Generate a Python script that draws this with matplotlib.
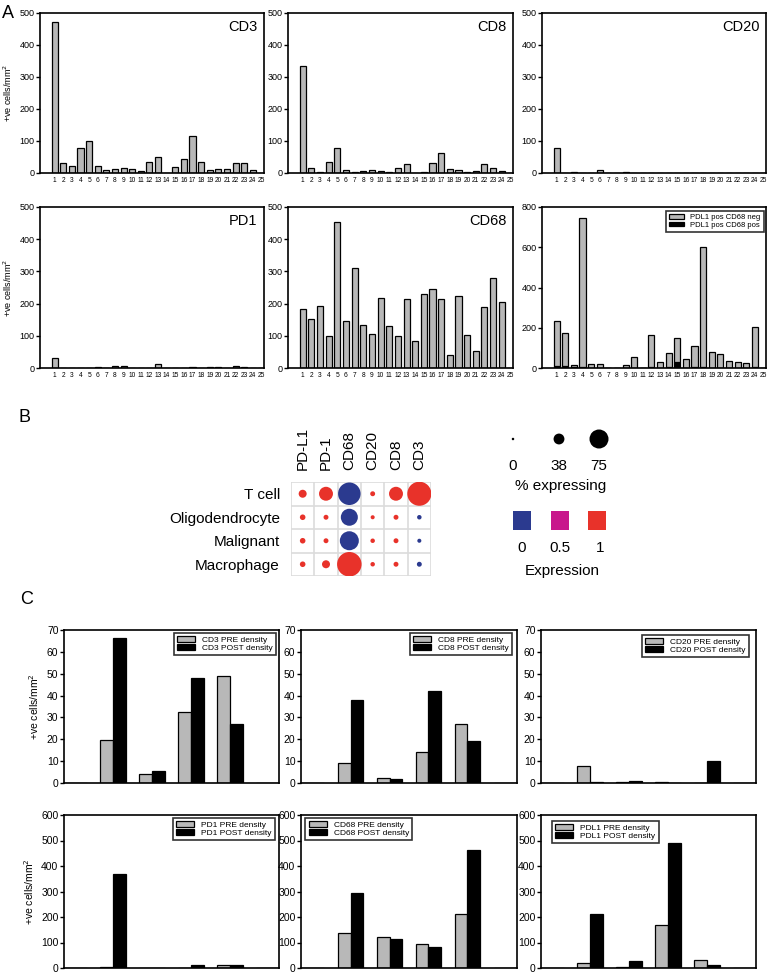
import numpy as np
import matplotlib
matplotlib.use("Agg")
from matplotlib import pyplot as plt
from matplotlib.colors import LinearSegmentedColormap
from matplotlib.patches import Rectangle

plt.rcParams['font.family'] = ['Liberation Sans', 'DejaVu Sans']

W, H = 782, 975
GREY = "#b8b8b8"

# ---- panel A data (cases 1..25) ----
cases = np.arange(1, 26)
cd3_a = [472, 31, 23, 78, 100, 21, 10, 13, 15, 13, 5, 33, 51, 1, 19, 44, 116, 33, 10, 12, 12, 31, 31, 8, 0]
cd8_a = [334, 17, 4, 34, 78, 10, 3, 5, 8, 7, 3, 15, 27, 0, 4, 31, 63, 14, 9, 3, 7, 28, 17, 6, 0]
cd20_a = [77, 1, 2, 0, 1, 8, 0, 0, 2, 0, 0, 0, 0, 0, 0, 0, 1, 0, 0, 0, 0, 1, 1, 0, 0]
pd1_a = [31, 0, 0, 0, 0, 3, 0, 5, 5, 0, 0, 0, 12, 0, 0, 0, 4, 0, 3, 3, 0, 6, 2, 0, 0]
cd68_a = [182, 153, 192, 100, 454, 145, 312, 133, 107, 218, 131, 99, 214, 83, 230, 246, 215, 41, 225, 102, 54, 189, 281, 205, 0]
pdl1_total = [236, 175, 15, 745, 21, 18, 0, 0, 15, 55, 0, 165, 28, 76, 150, 46, 111, 600, 81, 69, 36, 28, 26, 203, 0]
pdl1_cd68pos = [12, 10, 5, 3, 0, 0, 0, 0, 2, 2, 0, 3, 2, 3, 30, 2, 3, 5, 2, 2, 2, 1, 1, 3, 0]

# ---- panel B data ----
markers = ["PD-L1", "PD-1", "CD68", "CD20", "CD8", "CD3"]
cell_types = ["T cell", "Oligodendrocyte", "Malignant", "Macrophage"]
pct_expr = [
    [25, 52, 91, 11, 52, 98],
    [14, 11, 66, 7, 11, 9],
    [14, 11, 75, 9, 11, 7],
    [14, 25, 100, 9, 11, 11],
]
expression = [
    [1, 1, 0, 1, 1, 1],
    [1, 1, 0, 1, 1, 0],
    [1, 1, 0, 1, 1, 0],
    [1, 1, 1, 1, 1, 0],
]
size_breaks = [0, 38, 75]
color_breaks = [0.0, 0.5, 1.0]

# ---- panel C data (6 slots, first and last empty) ----
slots = np.arange(1, 7)
cd3_pre = [0, 19.5, 4, 32.5, 49, 0]
cd3_post = [0, 66.5, 5.5, 48, 27, 0]
cd8_pre = [0, 9, 2.3, 14, 27, 0]
cd8_post = [0, 38, 2, 42, 19, 0]
cd20_pre = [0, 8, 0.5, 0.5, 0, 0]
cd20_post = [0, 0.5, 1, 0, 10, 0]
pd1_pre = [0, 3, 0, 0, 10, 0]
pd1_post = [0, 370, 0, 12, 13, 0]
cd68_pre = [0, 138, 123, 95, 212, 0]
cd68_post = [0, 293, 112, 82, 461, 0]
pdl1_pre = [0, 21, 5, 169, 33, 0]
pdl1_post = [0, 210, 29, 492, 10, 0]


def box(x0, y0, x1, y1):
    return [x0 / W, 1 - y1 / H, (x1 - x0) / W, (y1 - y0) / H]


def style(ax, fs):
    for s in ax.spines.values():
        s.set_linewidth(1.2)
    ax.tick_params(axis='y', length=3, width=1, labelsize=fs, pad=1)
    ax.tick_params(axis='x', length=0, labelsize=fs)


fig = plt.figure(figsize=(W / 100, H / 100), dpi=100)

ylab = "+ve cells/mm$^2$"

# ---------------- A ----------------
acols = [(40, 264), (288, 513), (542, 766)]
arows = [(13, 173), (207, 368)]
a_data = [("CD3", cd3_a), ("CD8", cd8_a), ("CD20", cd20_a), ("PD1", pd1_a), ("CD68", cd68_a)]
for i, (name, vals) in enumerate(a_data):
    r, c = divmod(i, 3)
    ax = fig.add_axes(box(acols[c][0], arows[r][0], acols[c][1], arows[r][1]))
    ax.bar(cases, vals, 0.7, color=GREY, edgecolor="black", linewidth=0.9)
    ax.set_xlim(-0.7, 25.3)
    ax.set_ylim(0, 500)
    ax.set_yticks([0, 100, 200, 300, 400, 500])
    ax.set_xticks(cases)
    ax.set_xticklabels([str(k) for k in cases])
    style(ax, 6.5)
    ax.tick_params(axis='x', labelsize=4.8, pad=3)
    ax.text(0.97, 0.91, name, transform=ax.transAxes, ha="right", va="center", fontsize=10.5)
    if c == 0:
        ax.set_ylabel(ylab, fontsize=6.5, labelpad=4)

ax = fig.add_axes(box(acols[2][0], arows[1][0], acols[2][1], arows[1][1]))
pdl1_neg = np.array(pdl1_total) - np.array(pdl1_cd68pos)
ax.bar(cases, pdl1_cd68pos, 0.7, color="black", edgecolor="black", linewidth=0.9,
       label="PDL1 pos CD68 pos")
ax.bar(cases, pdl1_neg, 0.7, bottom=pdl1_cd68pos, color=GREY, edgecolor="black",
       linewidth=0.9, label="PDL1 pos CD68 neg")
ax.set_xlim(-0.7, 25.3)
ax.set_ylim(0, 800)
ax.set_yticks([0, 200, 400, 600, 800])
ax.set_xticks(cases)
ax.set_xticklabels([str(k) for k in cases])
style(ax, 6.5)
ax.tick_params(axis='x', labelsize=4.8, pad=3)
h, l = ax.get_legend_handles_labels()
leg = ax.legend(h[::-1], l[::-1], loc="upper right", bbox_to_anchor=(0.99, 0.975),
                fontsize=5.5, frameon=True, fancybox=False, borderpad=0.4,
                handlelength=2.0, handleheight=0.6, labelspacing=0.05, borderaxespad=0)
leg.get_frame().set_edgecolor("black")
leg.get_frame().set_linewidth(1.2)

fig.text(2 / W, 1 - 13 / H, "A", fontsize=13, ha="left", va="center")

# ---------------- B ----------------
narrow = ['Liberation Sans Narrow', 'Liberation Sans', 'DejaVu Sans']
cmap = LinearSegmentedColormap.from_list("expr", ["#2b3a8f", "#c8168c", "#e8322a"])


def diam_px(p):
    return 2.5 + 0.22 * np.asarray(p, dtype=float)


def s_pts(p):
    return (diam_px(p) * 0.72) ** 2


axb = fig.add_axes(box(291, 482, 431, 576))
xx, yy = np.meshgrid(np.arange(len(markers)), np.arange(len(cell_types)))
axb.scatter(xx.ravel(), yy.ravel(), s=s_pts(np.array(pct_expr).ravel()),
            c=np.array(expression, dtype=float).ravel(), cmap=cmap, vmin=0, vmax=1,
            linewidths=0, zorder=3)
axb.set_xlim(-0.5, len(markers) - 0.5)
axb.set_ylim(len(cell_types) - 0.5, -0.5)
axb.set_xticks(np.arange(len(markers)))
axb.set_xticklabels(markers, rotation=90, fontsize=11, family=narrow)
axb.set_yticks(np.arange(len(cell_types)))
axb.set_yticklabels(cell_types, fontsize=11, family=narrow)
axb.xaxis.tick_top()
axb.tick_params(axis='x', length=0, pad=9)
axb.tick_params(axis='y', length=0, pad=8)
axb.set_xticks(np.arange(-0.5, len(markers)), minor=True)
axb.set_yticks(np.arange(-0.5, len(cell_types)), minor=True)
axb.tick_params(which='minor', length=0)
axb.grid(which='minor', color="#dcdcdc", linewidth=1.2)
for s in axb.spines.values():
    s.set_visible(False)

# legend area in pixel units
axl = fig.add_axes(box(480, 420, 640, 590))
axl.set_xlim(480, 640)
axl.set_ylim(590, 420)
axl.axis("off")
leg_x = [513, 559, 599]
axl.scatter(leg_x, [439] * 3, s=s_pts(size_breaks), color="black", linewidths=0)
for x, b in zip(leg_x, size_breaks):
    axl.text(x, 466, str(b), ha="center", va="center", fontsize=11, family=narrow)
axl.text(561, 486, "% expressing", ha="center", va="center", fontsize=11, family=narrow)
sq_x = [522, 560, 597]
for x, v in zip(sq_x, color_breaks):
    axl.add_patch(Rectangle((x - 9, 510.5), 18, 19, facecolor=cmap(v), edgecolor="none"))
for x, v in zip([522, 560, 600], ["0", "0.5", "1"]):
    axl.text(x, 548, v, ha="center", va="center", fontsize=11, family=narrow)
axl.text(562, 571, "Expression", ha="center", va="center", fontsize=11, family=narrow)

fig.text(18 / W, 1 - 417 / H, "B", fontsize=13, ha="left", va="center", family=narrow)

# ---------------- C ----------------
ccols = [(64, 279), (301, 517), (541, 756)]
crows = [(630, 783), (815, 968)]
c_data = [
    ("CD3", cd3_pre, cd3_post, 70, "upper right", (0.986, 0.98)),
    ("CD8", cd8_pre, cd8_post, 70, "upper right", (0.977, 0.98)),
    ("CD20", cd20_pre, cd20_post, 70, "upper right", (0.967, 0.967)),
    ("PD1", pd1_pre, pd1_post, 600, "upper right", (0.98, 0.98)),
    ("CD68", cd68_pre, cd68_post, 600, "upper left", (0.02, 0.98)),
    ("PDL1", pdl1_pre, pdl1_post, 600, "upper left", (0.05, 0.96)),
]
bw = 0.33
for i, (name, pre, post, ymax, loc, anchor) in enumerate(c_data):
    r, c = divmod(i, 3)
    ax = fig.add_axes(box(ccols[c][0], crows[r][0], ccols[c][1], crows[r][1]))
    ax.bar(slots - bw / 2, pre, bw, color=GREY, edgecolor="black", linewidth=0.9,
           label=name + " PRE density")
    ax.bar(slots + bw / 2, post, bw, color="black", edgecolor="black", linewidth=0.9,
           label=name + " POST density")
    ax.set_xlim(0.73, 6.27)
    ax.set_ylim(0, ymax)
    if ymax == 70:
        ax.set_yticks(np.arange(0, 71, 10))
    else:
        ax.set_yticks(np.arange(0, 601, 100))
    ax.set_xticks([])
    style(ax, 7.5)
    leg = ax.legend(loc=loc, bbox_to_anchor=anchor, fontsize=6, frameon=True,
                    fancybox=False, borderpad=0.4, handlelength=2.2, handleheight=0.6,
                    labelspacing=0.05, borderaxespad=0)
    leg.get_frame().set_edgecolor("black")
    leg.get_frame().set_linewidth(1.2)
    if c == 0:
        ax.set_ylabel(ylab, fontsize=7.5, labelpad=4)

fig.text(20 / W, 1 - 599 / H, "C", fontsize=13, ha="left", va="center")

fig.savefig("out.png", dpi=100, facecolor="white")
